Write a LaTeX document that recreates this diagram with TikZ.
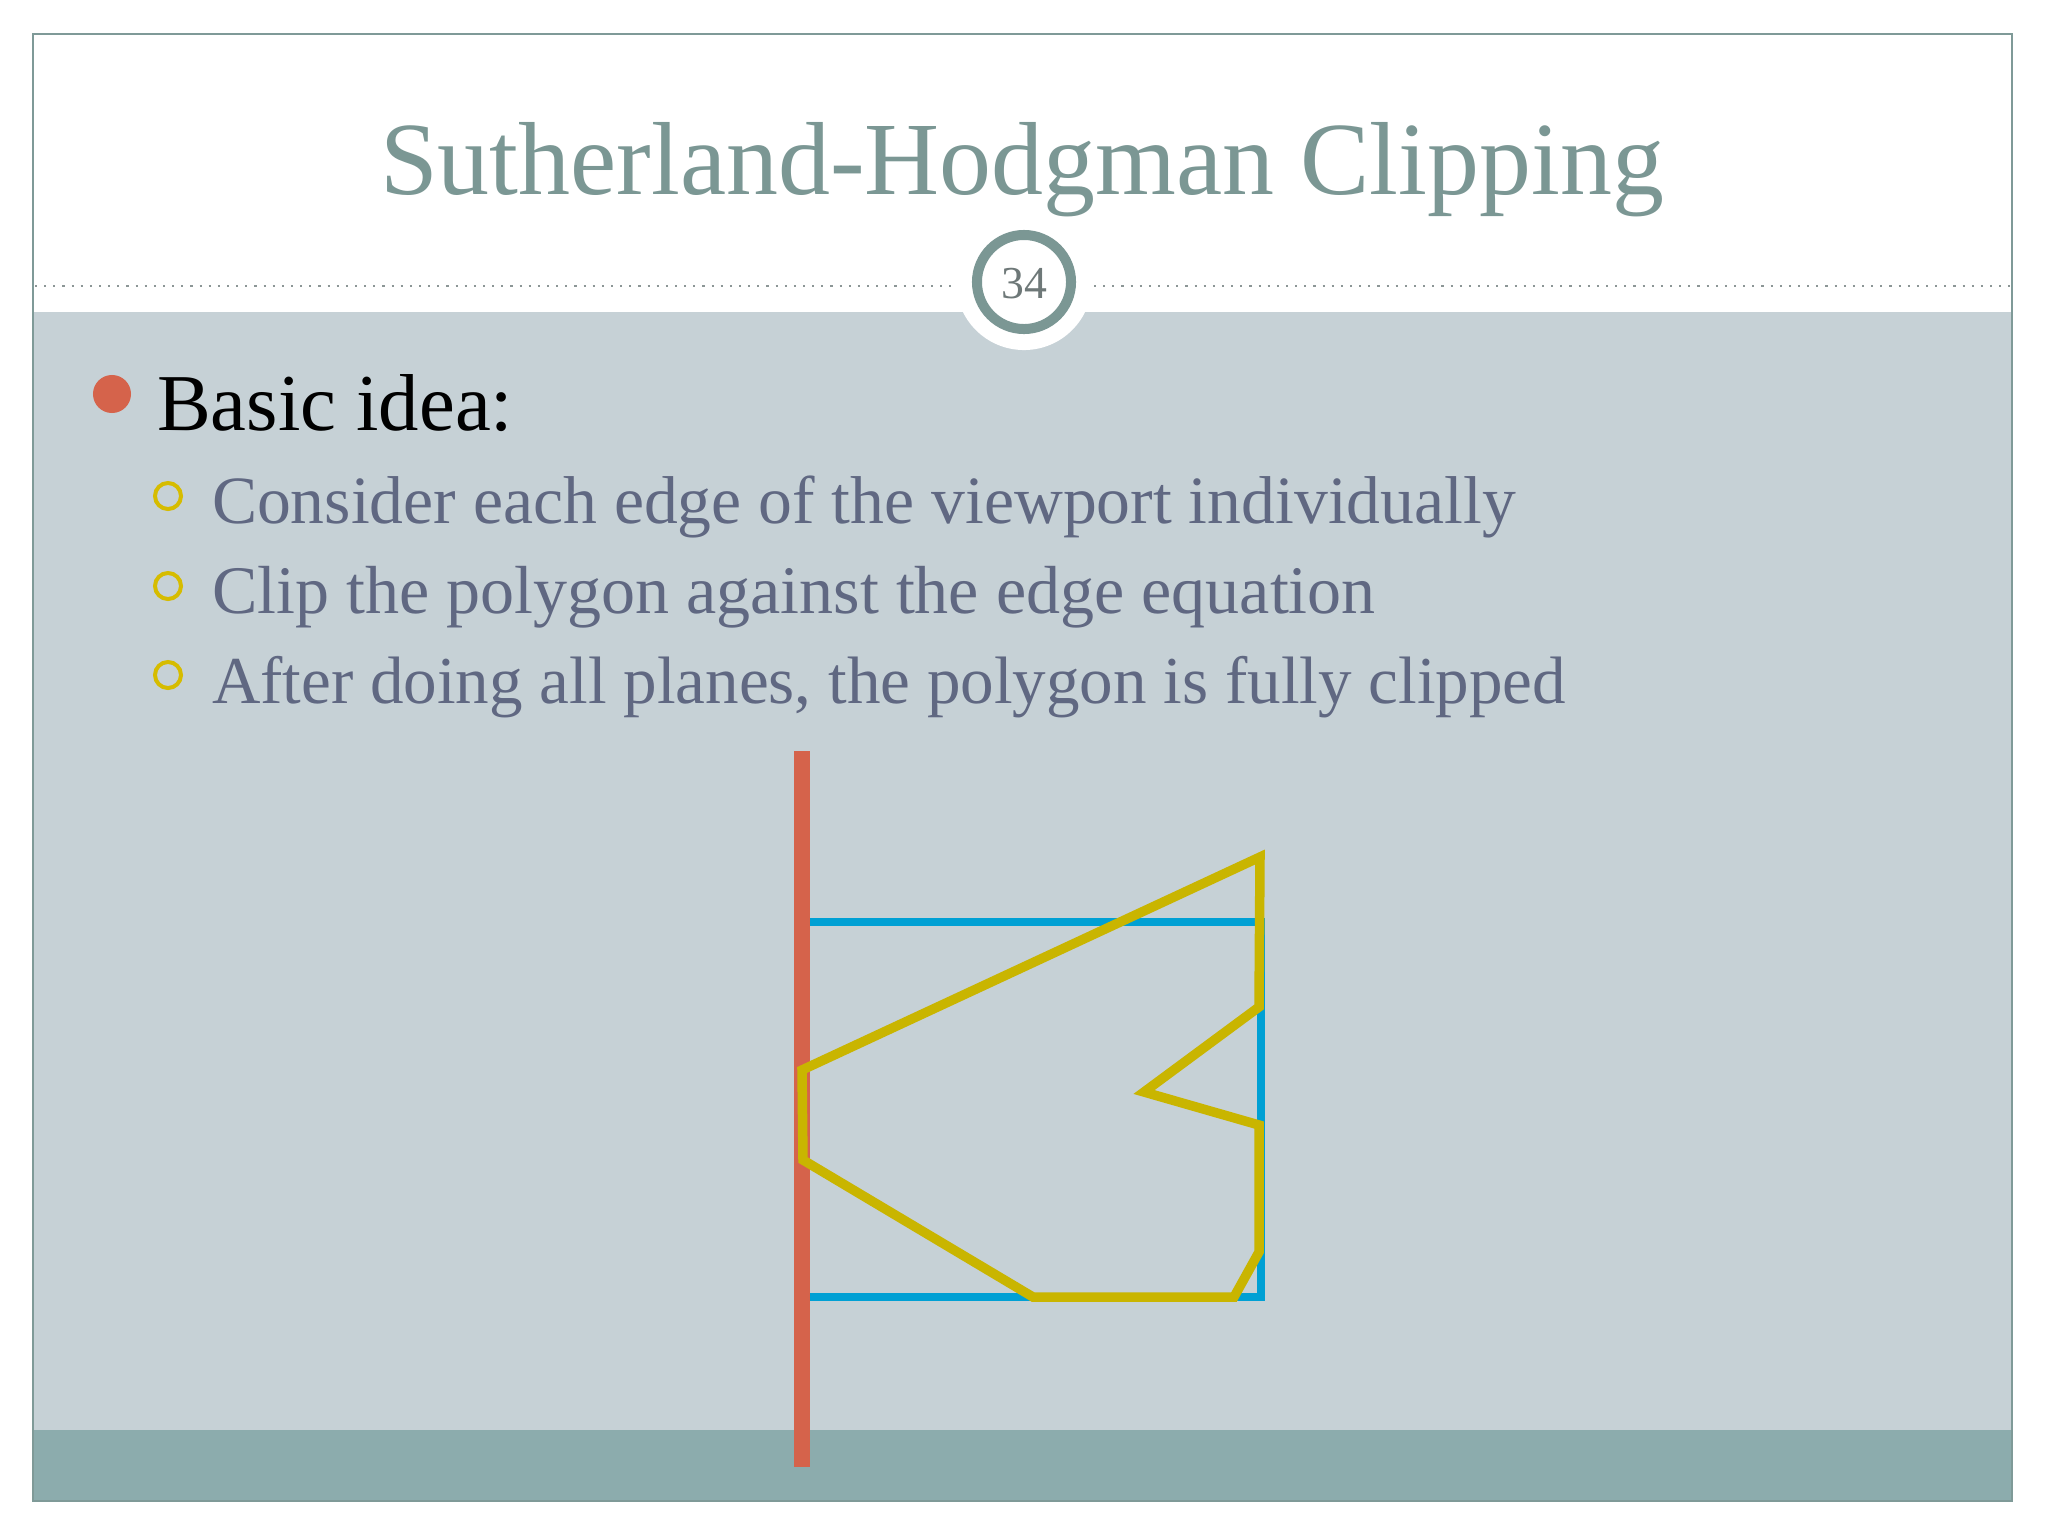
\documentclass[tikz,border=0pt]{standalone}
\usepackage{fontspec}
\setmainfont{Liberation Serif}
\usepackage{graphicx}
\definecolor{frameteal}{RGB}{127,154,152}
\definecolor{titlecol}{RGB}{123,151,148}
\definecolor{bodygray}{RGB}{198,209,214}
\definecolor{bandteal}{RGB}{140,172,173}
\definecolor{dotgray}{RGB}{140,150,150}
\definecolor{bulletred}{RGB}{213,99,75}
\definecolor{bulletyellow}{RGB}{214,188,0}
\definecolor{subtext}{RGB}{96,104,130}
\definecolor{clipblue}{RGB}{0,160,212}
\definecolor{polyyellow}{RGB}{201,181,0}
\definecolor{numgray}{RGB}{110,120,120}
\begin{document}
\begin{tikzpicture}[x=0.01cm,y=-0.01cm,
  txt/.style={inner sep=0pt, outer sep=0pt},
  subline/.style={txt, anchor=base west, text=subtext},
  subbullet/.style={bulletyellow, line width=0.04cm},
  dotrule/.style={dotgray, line width=0.6pt, dotted}]
\useasboundingbox (0,0) rectangle (2048,1536);
\fill[white] (0,0) rectangle (2048,1536);
% slide areas
\fill[bodygray] (33,312) rectangle (2012,1430);
\fill[bandteal] (33,1430) rectangle (2012,1501);
\draw[frameteal, line width=0.6pt] (33,34) rectangle (2012,1501);
% page number badge
\fill[white] (1024,282) circle[radius=0.68cm];
\draw[dotrule] (35,286) -- (956,286);
\draw[dotrule] (1094,286) -- (2010,286);
\draw[titlecol, line width=0.1cm] (1024,282) circle[radius=0.47cm];
\node[txt, anchor=base, text=numgray, font=\fontsize{13}{15}\selectfont] (pnum) at (1024,298) {34};
% title
\node[txt, anchor=base, text=titlecol] (title) at (1022,194) {\resizebox{12.83cm}{!}{Sutherland-Hodgman Clipping}};
% bullets
\fill[bulletred] (112,394) circle[radius=0.19cm];
\node[txt, anchor=base west, text=black] (basic) at (157,430) {\resizebox{3.56cm}{!}{Basic idea:}};
\draw[subbullet] (168,496) circle[radius=0.13cm];
\draw[subbullet] (168,586) circle[radius=0.13cm];
\draw[subbullet] (168,675) circle[radius=0.13cm];
\node[subline] (s1) at (212,523) {\resizebox{13.03cm}{!}{Consider each edge of the viewport individually}};
\node[subline] (s2) at (212,613) {\resizebox{11.63cm}{!}{Clip the polygon against the edge equation}};
\node[subline] (s3) at (212,703) {\resizebox{13.53cm}{!}{After doing all planes, the polygon is fully clipped}};
% diagram
\draw[clipblue, line width=0.085cm] (806,922) rectangle (1261,1297);
\fill[bulletred] (794,751) rectangle (810,1467);
\draw[polyyellow, line width=0.095cm, line join=miter]
  (1260,857) -- (1259,1007) -- (1144,1092) -- (1259,1125) -- (1259,1252)
  -- (1234,1297) -- (1033,1297) -- (803,1160) -- (802,1070) -- cycle;
\end{tikzpicture}
\end{document}
